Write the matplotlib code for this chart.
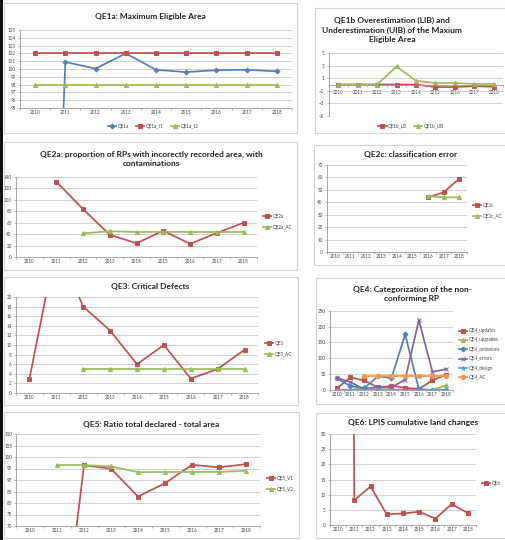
import numpy as np
import matplotlib
matplotlib.use("Agg")
import matplotlib.pyplot as plt
from matplotlib.patches import Rectangle

plt.rcParams['font.family'] = ['Lato', 'DejaVu Sans']

# Data

years = ['2010', '2011', '2012', '2013', '2014', '2015', '2016', '2017', '2018']
nan = np.nan

qe1a = [0, 100.9, 100.05, 102, 99.9, 99.6, 99.85, 99.9, 99.7]
qe1a_t1 = [102] * 9
qe1a_t2 = [98] * 9

qe1b_lb = [0, 0, 0, 0, 0, -0.4, -0.4, -0.25, -0.35]
qe1b_ub = [0, 0, 0, 2.9, 0.6, 0.25, 0.25, 0.1, 0.1]

qe2a = [nan, 132, 84, 39, 24, 46, 23, 42, 60]
qe2a_ac = [nan, nan, 41.5, 45, 43.8, 44, 43.8, 43.8, 43.8]

qe2c = [nan] * 6 + [44, 48, 59]
qe2c_ac = [nan] * 6 + [45, 44, 44]

qe3 = [3, 31, 18, 13, 6, 10, 3, 5, 9]
qe3_ac = [nan, nan, 5, 5, 5, 5, 5, 5, 5]

qe4_updates = [5, 40, 30, 8, 13, 7, 3, 31, 48]
qe4_upgrades = [0, 0, 8, 3, 2, 0, 0, 0, 15]
qe4_omissions = [37, 12, 6, 43, 38, 175, 3, 0, 0]
qe4_errors = [38, 25, 2, 10, 8, 33, 220, 57, 66]
qe4_design = [0, 0, 0, 0, 0, 0, 0, 0, 0]
qe4_ac = [nan, nan, 45, 45, 45, 45, 45, 45, 45]

qe5_v1 = [nan, 0, 96.4, 94.9, 82.8, 88.6, 96.6, 95.5, 96.9]
qe5_v2 = [nan, 96.5, 96.5, 95.9, 93.4, 93.5, 93.5, 93.5, 94.0]

qe6 = [900, 8.2, 12.7, 3.5, 3.8, 4.4, 2.1, 6.9, 3.9]

# Styles

BLUE = '#4F81BD'
RED = '#C0504D'
GREEN = '#9BBB59'
PURPLE = '#8064A2'
CYAN = '#4BACC6'
ORANGE = '#F79646'
GRID = '#c9c9c9'
AXIS = '#9a9a9a'
BORDER = '#d4d4d4'

W, H = 506., 540.
TICK = 3.3
TITLE = 6.0
LW = 1.25
MS = 3.0

fig = plt.figure(figsize=(W/100, H/100), dpi=100)
fig.patch.set_facecolor('white')

# left dark strip of the screenshot
fig.add_artist(Rectangle((0, 0), 3/W, 1, transform=fig.transFigure,
                         facecolor='#111111', edgecolor='none'))


def box(x0, y0, x1, y1):
    fig.add_artist(Rectangle((x0/W, 1-y1/H), (x1-x0)/W, (y1-y0)/H,
                             transform=fig.transFigure, facecolor='none',
                             edgecolor=BORDER, lw=0.8))


def title(x, y, txt):
    fig.text(x/W, 1-y/H, txt, ha='center', va='center', fontsize=TITLE,
             fontweight='bold', color='#222222', linespacing=1.35)


def panel(x0, y0, x1, y1, ylim, yticks):
    ax = fig.add_axes([x0/W, 1-y1/H, (x1-x0)/W, (y1-y0)/H])
    ax.set_xlim(-0.5, 8.5)
    ax.set_ylim(*ylim)
    ax.set_yticks(yticks)
    ax.set_xticks(range(9))
    ax.set_xticklabels(years)
    ax.set_xticks(np.arange(-0.5, 9, 1), minor=True)
    ax.grid(axis='y', color=GRID, lw=0.6)
    ax.set_axisbelow(True)
    for s in ['top', 'right']:
        ax.spines[s].set_visible(False)
    for s in ['left', 'bottom']:
        ax.spines[s].set_color(AXIS)
        ax.spines[s].set_linewidth(0.6)
    ax.tick_params(axis='both', labelsize=TICK, colors='#444444', pad=1.5)
    ax.tick_params(axis='y', length=1.5, width=0.5, color=AXIS)
    ax.tick_params(axis='x', which='major', length=0)
    ax.tick_params(axis='x', which='minor', length=1.5, width=0.5, color=AXIS)
    ax.patch.set_alpha(0)
    return ax


def series(ax, vals, color, marker, label, ms=MS):
    ax.plot(range(9), vals, color=color, lw=LW, marker=marker, ms=ms,
            mec=color, mfc=color, mew=0.7, label=label)


def legend(ax, x, y, loc, ncol=1, spacing=1.3):
    leg = ax.legend(loc=loc, bbox_to_anchor=(x/W, 1-y/H),
                    bbox_transform=fig.transFigure, ncol=ncol, frameon=False,
                    fontsize=TICK, handlelength=1.8, handletextpad=0.3,
                    labelspacing=spacing, columnspacing=1.6, borderpad=0,
                    borderaxespad=0)
    for t in leg.get_texts():
        t.set_color('#444444')


# QE1a
box(4, 3, 297, 133)
title(150, 17, "QE1a: Maximum Eligible Area")
ax = panel(20, 30, 292, 108, (95, 105), range(95, 106))
series(ax, qe1a, BLUE, 'D', 'QE1a', ms=2.5)
series(ax, qe1a_t1, RED, 's', 'QE1a_t1')
series(ax, qe1a_t2, GREEN, '^', 'QE1a_t2')
legend(ax, 153, 126, 'center', ncol=3)

# QE1b
box(315, 8, 507, 133)
title(392, 30, "QE1b Overestimation (LIB) and\nUnderestimation (UIB) of the Maxium\nEligible Area")
ax = panel(328.5, 53.3, 503.5, 115.8, (-5, 5), [-5, -3, -1, 1, 3, 5])
ax.spines['bottom'].set_position(('data', 0))
ax.tick_params(axis='x', pad=4)
series(ax, qe1b_lb, RED, 's', 'QE1b_LB')
series(ax, qe1b_ub, GREEN, '^', 'QE1b_UB')
legend(ax, 411, 126, 'center', ncol=2)

# QE2a
box(4, 142, 297, 270)
title(151, 159, "QE2a: proportion of RPs with incorectly recorded area, with\ncontaminations")
ax = panel(16, 177, 257, 257, (0, 140), range(0, 141, 20))
series(ax, qe2a, RED, 's', 'QE2a')
series(ax, qe2a_ac, GREEN, '^', 'QE2a_AC')
legend(ax, 263, 222, 'center left')

# QE2c
box(314, 145, 507, 265)
title(411, 154, "QE2c: classification error")
ax = panel(327, 165, 467, 252, (0, 70), range(0, 71, 10))
series(ax, qe2c, RED, 's', 'QE2c')
series(ax, qe2c_ac, GREEN, '^', 'QE2c_AC')
legend(ax, 473, 211, 'center left')

# QE3
box(4, 277, 298, 405)
title(150, 286, "QE3: Critical Defects")
ax = panel(16, 297, 258, 393, (0, 20), range(0, 21, 2))
series(ax, qe3, RED, 's', 'QE3')
series(ax, qe3_ac, GREEN, '^', 'QE3_AC')
legend(ax, 265, 349, 'center left')

# QE4
box(316, 278, 507, 404)
title(412, 294, "QE4: Categorization of the non-\nconforming RP")
ax = panel(330, 310.7, 453, 390, (0, 250), range(0, 251, 50))
series(ax, qe4_updates, RED, 's', 'QE4_updates')
series(ax, qe4_upgrades, GREEN, '^', 'QE4_upgrades')
series(ax, qe4_omissions, BLUE, 'D', 'QE4_omissions', ms=2.5)
series(ax, qe4_errors, PURPLE, 'x', 'QE4_errors')
series(ax, qe4_design, CYAN, '*', 'QE4_design')
series(ax, qe4_ac, ORANGE, 'o', 'QE4_AC')
legend(ax, 459, 354, 'center left', spacing=0.95)

# QE5
box(4, 412, 299, 538)
title(151, 424, "QE5: Ratio total declared - total area")
ax = panel(16.5, 434, 259.5, 526, (70, 110), range(70, 111, 5))
series(ax, qe5_v1, RED, 's', 'QE5_V1')
series(ax, qe5_v2, GREEN, '^', 'QE5_V2')
legend(ax, 267, 484, 'center left')

# QE6
box(316, 413, 507, 538)
title(413, 423, "QE6: LPIS cumulative land changes")
ax = panel(330, 434, 476, 525, (0, 30), range(0, 31, 5))
series(ax, qe6, RED, 's', 'QE6')
legend(ax, 482, 483, 'center left')

fig.savefig('out.png', dpi=100)
